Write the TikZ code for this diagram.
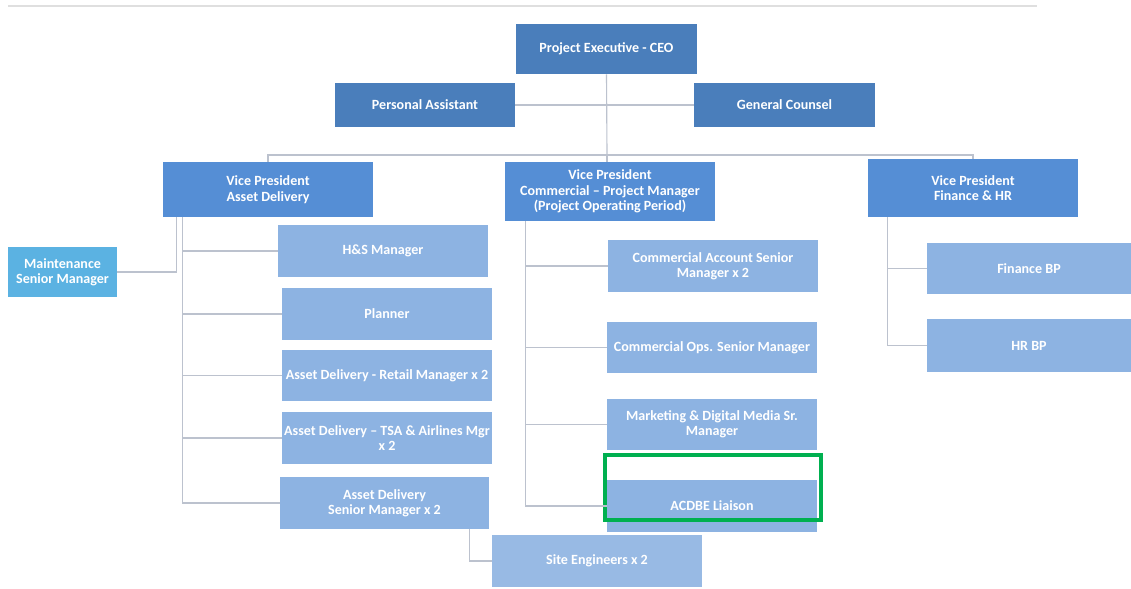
\documentclass[tikz,border=0pt]{standalone}
\usepackage{fontspec}
\setmainfont{Carlito}
\usepackage{tikz}
\usepackage{xcolor}
\definecolor{topblue}{RGB}{74,126,187}
\definecolor{vpblue}{RGB}{85,142,213}
\definecolor{subblue}{RGB}{141,179,226}
\definecolor{skyblue}{RGB}{91,178,226}
\definecolor{siteblue}{RGB}{152,186,228}
\definecolor{linegray}{RGB}{188,194,206}
\definecolor{markgreen}{RGB}{0,176,80}

\begin{document}
\begin{tikzpicture}[x=0.025cm,y=-0.025cm,
    box/.style={text=white,inner sep=1pt,align=center,font=\fontsize{10}{11}\selectfont\bfseries},
    size/.style 2 args={minimum width=#1*0.025cm,minimum height=#2*0.025cm},
    link/.style={linegray,line width=0.8pt}]
    \useasboundingbox[fill=white] (0,0) rectangle (1131,588);
    \draw[gray!25,line width=1pt] (8,6) -- (1037,6);

    \node[box,fill=topblue,size={181}{50}] (ceo) at (606.5,49) {Project Executive - CEO};
    \node[box,fill=topblue,size={180}{44}] (pa) at (425,105) {Personal Assistant};
    \node[box,fill=topblue,size={181}{44}] (gc) at (784.5,105) {General Counsel};

    \node[box,fill=vpblue,size={210}{55}] (vpad) at (268,189.5) {Vice President\\Asset Delivery};
    \node[box,fill=vpblue,size={210}{59}] (vpcm) at (610,191.5) {Vice President\\Commercial – Project Manager\\(Project Operating Period)};
    \node[box,fill=vpblue,size={210}{58}] (vpfh) at (973,188) {Vice President\\Finance \& HR};

    \node[box,fill=skyblue,size={109}{50}] (maint) at (62.5,272) {Maintenance\\Senior Manager};
    \node[box,fill=subblue,size={210}{52}] (hs) at (383,251) {H\&S Manager};
    \node[box,fill=subblue,size={210}{52}] (plan) at (387,314) {Planner};
    \node[box,fill=subblue,size={210}{51}] (retail) at (387,375.5) {Asset Delivery - Retail Manager x 2};
    \node[box,fill=subblue,size={210}{52}] (tsa) at (387,438) {Asset Delivery – TSA \& Airlines Mgr\\x 2};
    \node[box,fill=subblue,size={209}{52}] (adsm) at (384.5,503) {Asset Delivery\\Senior Manager x 2};
    \node[box,fill=siteblue,size={210}{52}] (site) at (597,561) {Site Engineers x 2};

    \node[box,fill=subblue,size={210}{52}] (cas) at (713,266) {Commercial Account Senior\\Manager x 2};
    \node[box,fill=subblue,size={210}{51}] (ops) at (712,347.5) {Commercial Ops. Senior Manager};
    \node[box,fill=subblue,size={210}{51}] (mkt) at (712,424.5) {Marketing \& Digital Media Sr.\\Manager};
    \node[box,fill=subblue,size={210}{52}] (acdbe) at (712,506) {ACDBE Liaison};

    \node[box,fill=subblue,size={204}{51}] (fin) at (1029,268.5) {Finance BP};
    \node[box,fill=subblue,size={204}{53}] (hr) at (1029,345.5) {HR BP};

    \node[draw=markgreen,line width=2.8pt,size={216}{65}] (mark) at (713,487.5) {};

    \coordinate (bus) at (607,155);
    \draw[link] (ceo.south) -- (bus);
    \draw[link] (pa.east) -- (gc.west);
    \draw[link] (vpad.north) -- (vpad.north |- bus) -- (vpfh.north |- bus) -- (vpfh.north);
    \draw[link] (bus) -- (bus |- vpcm.north);

    \draw[link] ([xshift=0.35cm]vpad.south west) |- (maint.east);
    \foreach \n in {hs,plan,retail,tsa,adsm}
        \draw[link] ([xshift=0.5cm]vpad.south west) |- (\n.west);
    \draw[link] ([xshift=-0.5cm]adsm.south east) |- (site.west);
    \foreach \n in {cas,ops,mkt,acdbe}
        \draw[link] ([xshift=0.525cm]vpcm.south west) |- (\n.west);
    \foreach \n in {fin,hr}
        \draw[link] ([xshift=0.5cm]vpfh.south west) |- (\n.west);

    \end{tikzpicture}
\end{document}
